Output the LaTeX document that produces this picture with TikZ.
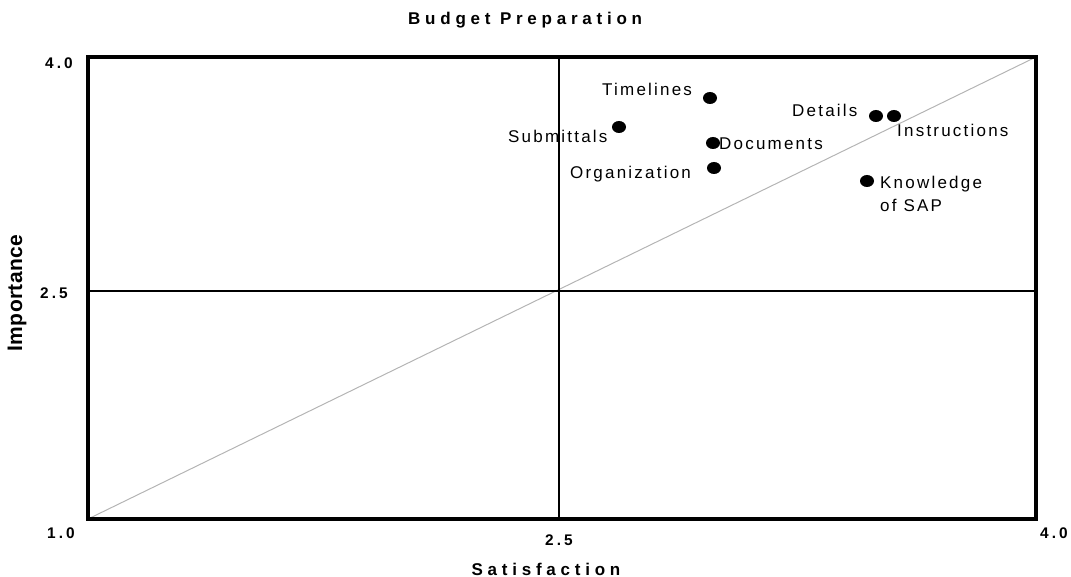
\documentclass[tikz,border=0pt]{standalone}
\usepackage{fontspec}
\setmainfont{Liberation Sans}
\newfontfamily\titlefont[LetterSpace=28]{Liberation Sans}
\newfontfamily\labfont[LetterSpace=13]{Liberation Sans}
\newfontfamily\numfont[LetterSpace=20]{Liberation Sans}
\newfontfamily\impfont[LetterSpace=2]{Liberation Sans}
\usetikzlibrary{shapes.geometric}
\tikzset{
  bigbold/.style={inner sep=0pt, font=\titlefont\bfseries\fontsize{17}{20}\selectfont},
  axnum/.style={inner sep=0pt, anchor=base west, font=\numfont\bfseries\fontsize{15.4}{18}\selectfont},
  lab/.style={inner sep=0pt, anchor=base west, font=\labfont\fontsize{17}{20}\selectfont},
  dot/.style={ellipse, fill=black, draw=none, inner sep=0pt, minimum width=14pt, minimum height=12pt},
  frameline/.style={line width=3.2pt, line cap=rect},
  midline/.style={line width=2.2pt},
  diag/.style={line width=1pt, draw={rgb,255:red,180;green,180;blue,180}}
}
\begin{document}
\begin{tikzpicture}[x=1pt,y=-1pt]
\useasboundingbox (0,0) rectangle (1071,577);
% frame corners and mid points
\coordinate (bl) at (88,519);
\coordinate (tr) at (1036,57);
\coordinate (tl) at (88,57);
\coordinate (br) at (1036,519);
\coordinate (mt) at (559,57);
\coordinate (mb) at (559,519);
\coordinate (ml) at (88,291);
\coordinate (mr) at (1036,291);
% diagonal
\draw[diag] (bl) -- (tr);
% quadrant lines
\draw[midline] (mt) -- (mb);
\draw[midline] (ml) -- (mr);
% frame
\draw[frameline] (tl) -- (tr) -- (br) -- (bl) -- cycle;
% title and axis labels
\node[bigbold, anchor=base west] (title) at (408,25) {Budget Preparation};
\node[bigbold, anchor=base] (xlab) at (546,575) {Satisfaction};
\node[inner sep=0pt, rotate=90, font=\impfont\bfseries\fontsize{21}{24}\selectfont] (ylab) at (17,293) {Importance};
% tick numbers
\node[axnum] (y40) at (45,69) {4.0};
\node[axnum] (y25) at (40,299) {2.5};
\node[axnum] (x10) at (47,538) {1.0};
\node[axnum] (x25) at (545,545) {2.5};
\node[axnum] (x40) at (1040,538) {4.0};
% data points
\node[dot] (dtime) at (710,98) {};
\node[dot] (dsub) at (619,127) {};
\node[dot] (ddoc) at (713,143) {};
\node[dot] (dorg) at (714,168) {};
\node[dot] (ddet) at (876,116) {};
\node[dot] (dins) at (894,116) {};
\node[dot] (dknow) at (867,181) {};
% point labels
\node[lab] (ltime) at (602,96) {Timelines};
\node[lab] (lsub) at (508,143) {Submittals};
\node[lab] (ldoc) at (719,150) {Documents};
\node[lab] (lorg) at (570,179) {Organization};
\node[lab] (ldet) at (792,117) {Details};
\node[lab] (lins) at (897,137) {Instructions};
\node[lab] (lknow) at (880,189) {Knowledge};
\node[lab] (lsap) at (880,212) {of SAP};
\end{tikzpicture}
\end{document}
